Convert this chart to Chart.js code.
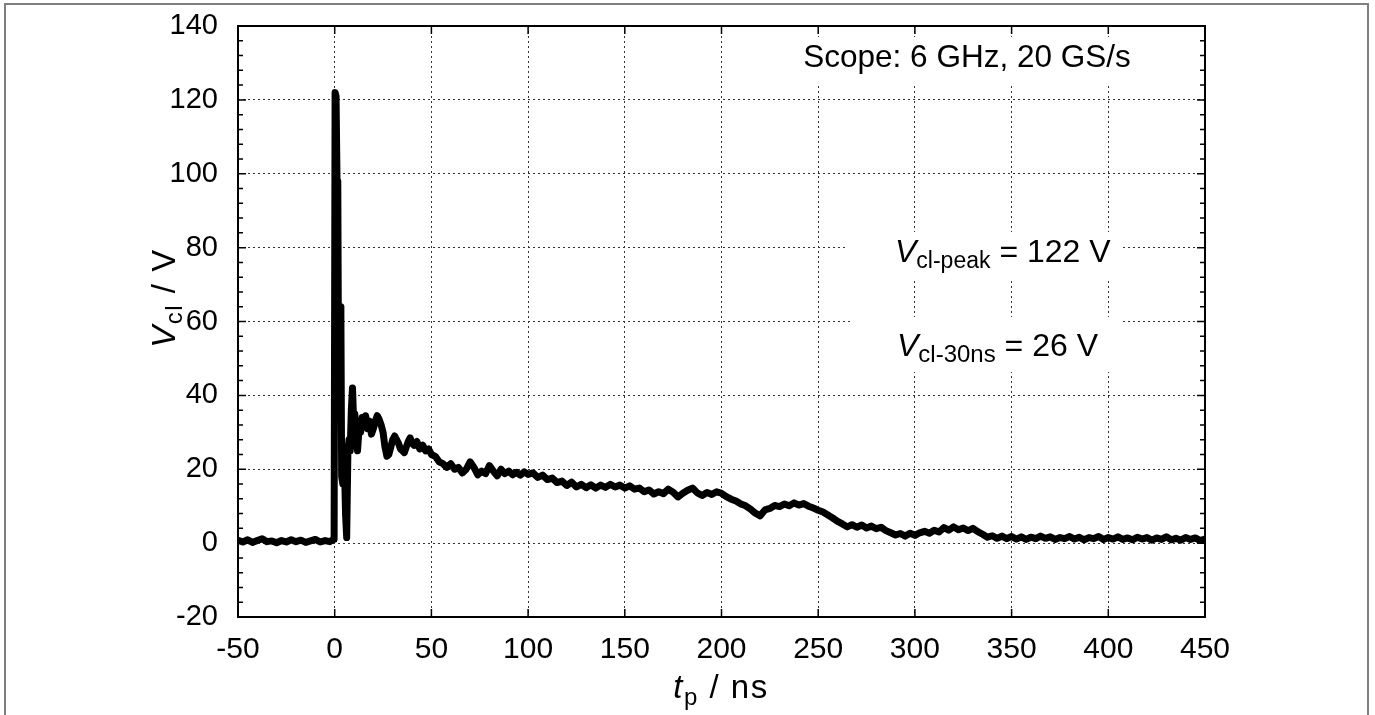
<!DOCTYPE html>
<html>
<head>
<meta charset="utf-8">
<script src="https://cdn.jsdelivr.net/npm/chart.js@4"></script>
<style>
  body { margin: 0; background: #fff; }
  #wrap { width: 1375px; height: 715px; }
</style>
</head>
<body>
<div id="wrap"><canvas id="clamp-chart" width="1375" height="715"></canvas></div>
<script>
// clamp voltage waveform
const tNs = [
  -50, -47.5, -45, -42.5, -40, -37.5, -35, -32.5, -30, -27.5, -25, -22.5, -20, -17.5, -15, -12.5, -10, -7.5, -5, -2.5, -1, -0.3,
  0.2, 0.7, 1.2, 1.6, 2.0, 2.4, 2.8, 3.2, 3.6, 4.2, 4.6, 5.0, 5.6, 6.2, 6.8, 7.4, 8.0, 8.6, 9.2, 9.8, 10.4, 11.0, 11.8, 12.6, 13.4, 14.2,
  15, 16, 17, 18, 19, 20, 21, 22, 23, 24, 25, 26, 27, 28, 29, 30, 31, 32, 33, 34, 35, 36, 37, 38, 39, 40, 41, 42.5, 44, 45.5, 47, 48.5,
  50, 52, 54, 56, 58, 60, 62, 64, 66, 68, 70, 72, 74, 76, 78, 80, 82, 84, 86, 88, 90, 92, 94, 96, 98,
  100, 102.5, 105, 107.5, 110, 112.5, 115, 117.5, 120, 122.5, 125, 127.5, 130, 132.5, 135, 137.5, 140, 142.5, 145, 147.5,
  150, 152.5, 155, 157.5, 160, 162.5, 165, 167.5, 170, 172.5, 175, 177.5, 180, 182.5, 185, 187.5, 190, 192.5, 195, 197.5,
  200, 202.5, 205, 207.5, 210, 212.5, 215, 217.5, 220, 222.5, 225, 227.5, 230, 232.5, 235, 237.5, 240, 242.5, 245, 247.5,
  250, 252.5, 255, 257.5, 260, 262.5, 265, 267.5, 270, 272.5, 275, 277.5, 280, 282.5, 285, 287.5, 290, 292.5, 295, 297.5,
  300, 302.5, 305, 307.5, 310, 312.5, 315, 317.5, 320, 322.5, 325, 327.5, 330, 332.5, 335, 337.5, 340, 342.5, 345, 347.5,
  350, 352.5, 355, 357.5, 360, 362.5, 365, 367.5, 370, 372.5, 375, 377.5, 380, 382.5, 385, 387.5, 390, 392.5, 395, 397.5,
  400, 402.5, 405, 407.5, 410, 412.5, 415, 417.5, 420, 422.5, 425, 427.5, 430, 432.5, 435, 437.5, 440, 442.5, 445, 447.5, 450
];
const vCl = [
  0.8, 0.3, 0.9, 0.2, 0.7, 1.2, 0.4, 0.6, 0.1, 0.7, 0.3, 0.9, 0.4, 0.8, 0.2, 0.6, 1.0, 0.3, 0.7, 0.4, 0.9, 1.0,
  122, 121, 98, 97, 45, 42, 64, 62, 18, 16, 26, 22, 8, 1.5, 24, 28, 25, 36, 42, 33, 35, 29, 25, 31, 30, 34,
  32, 34.5, 31, 33, 29.5, 31, 33, 34.5, 33.5, 32, 30, 26, 23.5, 24, 26, 28, 29, 28, 27, 25.5, 25, 24.5, 26, 27.5, 28.5, 27, 26.5, 27.5, 25.5, 26.5, 25, 25.5,
  24, 23.5, 22, 21.5, 20.5, 21.5, 20, 20.5, 19, 20, 22, 20.5, 18.5, 19.5, 18.8, 21, 19.5, 18.2, 20, 18.8, 19.5, 18.5, 19.2, 18.4, 19.3,
  18.6, 19, 17.8, 18.4, 17.2, 17.6, 16.4, 16.8, 15.6, 16.5, 15.2, 15.9, 15.0, 15.8, 14.9, 15.7, 15.1, 15.9, 15.2, 15.7,
  14.9, 15.5, 14.6, 14.9, 13.9, 14.4, 13.3, 13.9, 13.4, 14.6, 13.8, 12.5, 13.5, 14.3, 14.9, 13.6, 12.9, 13.7, 13.2, 13.9,
  13.5, 12.6, 11.9, 11.4, 10.6, 10.1, 9.2, 8.1, 7.4, 9.0, 9.4, 10.2, 9.9, 10.6, 10.1, 10.9, 10.3, 10.7, 10.0, 9.5,
  8.9, 8.4, 7.6, 6.8, 5.9, 5.2, 4.4, 5.0, 4.3, 4.9, 4.1, 4.6, 3.9, 4.3, 3.4, 2.8, 2.2, 2.6, 1.9, 2.7,
  2.1, 2.8, 3.2, 2.7, 3.5, 3.0, 4.2, 3.5, 4.4, 3.6, 4.1, 3.4, 4.0, 3.1, 2.4, 1.6, 2.0, 1.3, 1.9, 1.2,
  1.8, 1.1, 1.7, 1.0, 1.6, 1.2, 1.9, 1.3, 1.7, 1.0, 1.5, 1.2, 1.8, 1.1, 1.6, 0.9, 1.5, 1.2, 1.8, 1.0,
  1.5, 1.1, 1.7, 1.0, 1.4, 0.9, 1.6, 1.1, 1.5, 0.8, 1.4, 1.0, 1.7, 0.9, 1.3, 0.8, 1.5, 1.0, 1.4, 0.7, 1.1
];

const xRange = [-50, 450];
const yRange = [-20, 140];
const xStep = 50;
const yStep = 20;
const yMinorStep = 4;

const scopeNote = 'Scope: 6 GHz, 20 GS/s';
const peakNote = ['V', 'cl-peak', ' = 122 V'];
const clampNote = ['V', 'cl-30ns', ' = 26 V'];
const yTitle = ['V', 'cl', ' / V'];
const xTitle = ['t', 'p', ' / ns'];

const FONT = "'Liberation Sans', Arial, sans-serif";

// draws "Main_sub rest" with italic main letter, returns width
function richText(ctx, parts, x, y, size, subSize, subDrop, measureOnly) {
  const [main, sub, rest] = parts;
  ctx.font = 'italic ' + size + 'px ' + FONT;
  const w1 = ctx.measureText(main).width;
  ctx.font = subSize + 'px ' + FONT;
  const w2 = ctx.measureText(sub).width;
  ctx.font = size + 'px ' + FONT;
  const w3 = ctx.measureText(rest).width;
  if (!measureOnly) {
    ctx.textBaseline = 'alphabetic';
    ctx.textAlign = 'left';
    ctx.font = 'italic ' + size + 'px ' + FONT;
    ctx.fillText(main, x, y);
    ctx.font = subSize + 'px ' + FONT;
    ctx.fillText(sub, x + w1, y + subDrop);
    ctx.font = size + 'px ' + FONT;
    ctx.fillText(rest, x + w1 + w2, y);
  }
  return w1 + w2 + w3;
}

const decorations = {
  id: 'decorations',
  afterDraw(chart) {
    const ctx = chart.ctx;
    const a = chart.chartArea;
    const xs = chart.scales.x, ys = chart.scales.y;
    ctx.save();

    // outer frame
    ctx.strokeStyle = '#7f7f7f';
    ctx.lineWidth = 2;
    ctx.strokeRect(5, 4, 1363, 720);

    // white boxes behind notes
    ctx.fillStyle = '#fff';
    ctx.fillRect(790, 37, 355, 46);
    ctx.fillRect(845, 232, 278, 48);
    ctx.fillRect(850, 317, 270, 55);

    ctx.fillStyle = '#000';
    ctx.font = '31.5px ' + FONT;
    ctx.textAlign = 'center';
    ctx.textBaseline = 'alphabetic';
    ctx.fillText(scopeNote, 967, 67);

    richText(ctx, peakNote, 895, 262, 32, 23, 6);
    richText(ctx, clampNote, 897, 356, 32, 24, 6);

    // axis titles
    ctx.letterSpacing = '1.5px';
    const wx = richText(ctx, xTitle, 0, 0, 33, 24, 7, true);
    richText(ctx, xTitle, 721 - wx / 2, 698, 33, 24, 7);
    ctx.save();
    ctx.translate(175, 298);
    ctx.rotate(-Math.PI / 2);
    const wy = richText(ctx, yTitle, 0, 0, 33, 24, 7, true);
    richText(ctx, yTitle, -wy / 2, 0, 33, 24, 7);
    ctx.restore();
    ctx.letterSpacing = '0px';

    // inward ticks
    ctx.strokeStyle = '#000';
    ctx.lineWidth = 1.5;
    ctx.beginPath();
    for (let v = xRange[0]; v <= xRange[1]; v += xStep) {
      const px = xs.getPixelForValue(v);
      ctx.moveTo(px, a.bottom); ctx.lineTo(px, a.bottom - 8);
      ctx.moveTo(px, a.top); ctx.lineTo(px, a.top + 8);
    }
    for (let v = yRange[0]; v <= yRange[1]; v += yMinorStep) {
      const py = ys.getPixelForValue(v);
      const len = (v - yRange[0]) % yStep === 0 ? 8 : 5;
      ctx.moveTo(a.left, py); ctx.lineTo(a.left + len, py);
      ctx.moveTo(a.right, py); ctx.lineTo(a.right - len, py);
    }
    ctx.stroke();

    // plot frame
    ctx.lineWidth = 2;
    ctx.strokeRect(a.left, a.top, a.right - a.left, a.bottom - a.top);
    ctx.restore();
  }
};

const gridStyle = {
  color: '#333',
  lineWidth: 1,
  drawTicks: false
};

function noEdgePadding(scale) {
  scale.paddingTop = 0;
  scale.paddingBottom = 0;
  scale.paddingLeft = 0;
  scale.paddingRight = 0;
}

new Chart(document.getElementById('clamp-chart'), {
  type: 'line',
  data: {
    datasets: [{
      label: 'Vcl',
      data: tNs.map((t, i) => ({ x: t, y: vCl[i] })),
      borderColor: '#000',
      borderWidth: 7,
      borderJoinStyle: 'round',
      borderCapStyle: 'round',
      pointRadius: 0,
      tension: 0,
      fill: false
    }]
  },
  options: {
    responsive: false,
    animation: false,
    devicePixelRatio: 1,
    layout: { padding: { left: 0, right: 170, top: 26, bottom: 0 } },
    plugins: {
      legend: { display: false },
      tooltip: { enabled: false }
    },
    scales: {
      x: {
        type: 'linear',
        min: xRange[0],
        max: xRange[1],
        afterFit: (scale) => { scale.height = 98; noEdgePadding(scale); },
        border: { display: false, dash: [2, 3] },
        grid: gridStyle,
        ticks: {
          stepSize: xStep,
          padding: 15,
          color: '#000',
          maxRotation: 0,
          font: { family: FONT, size: 30 }
        }
      },
      y: {
        type: 'linear',
        min: yRange[0],
        max: yRange[1],
        afterFit: (scale) => { scale.width = 238; noEdgePadding(scale); },
        border: { display: false, dash: [2, 3] },
        grid: gridStyle,
        ticks: {
          stepSize: yStep,
          padding: 20,
          color: '#000',
          font: { family: FONT, size: 29 }
        }
      }
    }
  },
  plugins: [decorations]
});
</script>
</body>
</html>
